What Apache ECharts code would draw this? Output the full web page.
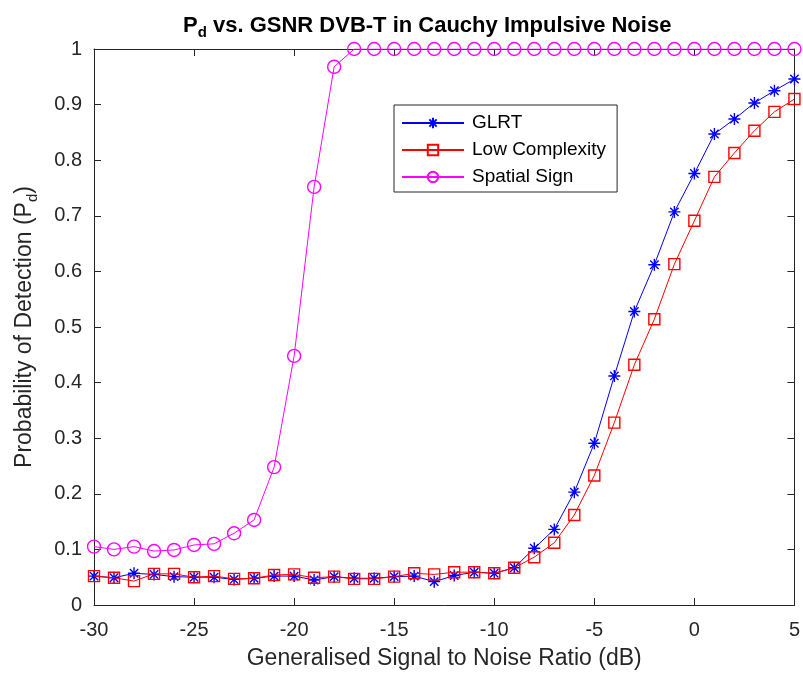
<!DOCTYPE html>
<html>
<head>
<meta charset="utf-8">
<script src="https://cdn.jsdelivr.net/npm/echarts@6/dist/echarts.min.js"></script>
<style>html,body{margin:0;padding:0;background:#fff}#c{width:803px;height:675px}</style>
</head>
<body>
<div id="c"></div>
<script>
const snr = [-30,-29,-28,-27,-26,-25,-24,-23,-22,-21,-20,-19,-18,-17,-16,-15,-14,-13,-12,-11,-10,-9,-8,-7,-6,-5,-4,-3,-2,-1,0,1,2,3,4,5];
const glrt = [0.052,0.049,0.057,0.055,0.051,0.050,0.050,0.046,0.048,0.052,0.052,0.045,0.051,0.048,
  0.048,0.051,0.052,0.042,0.053,0.059,0.057,0.067,
  0.102,0.136,0.203,0.291,0.412,0.528,0.612,0.707,0.776,0.847,0.874,0.903,0.925,0.946];
const lowComplexity = [0.052,0.049,0.043,0.056,0.056,0.050,0.052,0.047,0.048,0.054,0.055,0.049,0.051,0.047,
  0.047,0.051,0.057,0.055,0.059,0.059,0.057,0.067,
  0.086,0.112,0.162,0.233,0.328,0.432,0.514,0.613,0.691,0.770,0.813,0.853,0.887,0.910];
const spatialSign = [0.105,0.100,0.105,0.097,0.099,0.108,0.110,0.129,0.153,0.248,0.448,0.752,0.968,1.0,
  1.0,1.0,1.0,1.0,1.0,1.0,1.0,1.0,
  1.0,1.0,1.0,1.0,1.0,1.0,1.0,1.0,1.0,1.0,1.0,1.0,1.0,1.0];
const seriesNames = ['GLRT','Low Complexity','Spatial Sign'];

const FONT = 'Liberation Sans, Arial, Helvetica, sans-serif';
const AX = '#262626';
const star = 'path://M5 0 L5 10 M0 5 L10 5 M1.5 1.5 L8.5 8.5 M1.5 8.5 L8.5 1.5';
const pair = (ys) => snr.map((x, i) => [x, ys[i]]);

const axisCommon = () => ({
  axisLine: {show: true, onZero: false, lineStyle: {color: AX, width: 1}},
  axisTick: {show: true, inside: true, length: 7, lineStyle: {color: AX}},
  splitLine: {show: false}
});

const chart = echarts.init(document.getElementById('c'), null, {renderer: 'canvas'});
chart.setOption({
  backgroundColor: '#fff',
  animation: false,
  title: {
    text: 'P{sub|d} vs. GSNR DVB-T in Cauchy Impulsive Noise',
    left: 178, top: 6,
    textStyle: {fontFamily: FONT, fontSize: 22, fontWeight: 'bold', color: '#000',
      rich: {sub: {fontFamily: FONT, fontSize: 15, fontWeight: 'bold', color: '#000', verticalAlign: 'bottom', padding: [14, 0, 0, 0]}}}
  },
  grid: {left: 94, right: 5, top: 49, bottom: 70, containLabel: false},
  legend: {
    orient: 'vertical', left: 394, top: 105,
    data: seriesNames,
    itemWidth: 62, itemHeight: 13, itemGap: 7,
    padding: [8, 11, 5, 7],
    borderColor: AX, borderWidth: 1, backgroundColor: '#fff',
    textStyle: {fontFamily: FONT, fontSize: 19, color: '#000', lineHeight: 20, padding: [0, 0, 0, 3]}
  },
  xAxis: [
    Object.assign({type: 'value', min: -30, max: 5, interval: 5, position: 'bottom',
      name: 'Generalised Signal to Noise Ratio (dB)', nameLocation: 'middle', nameGap: 42,
      nameTextStyle: {fontFamily: FONT, fontSize: 23, color: AX},
      axisLabel: {fontFamily: FONT, fontSize: 20, color: AX, margin: 15}}, axisCommon()),
    Object.assign({type: 'value', min: -30, max: 5, interval: 5, position: 'top',
      axisLabel: {show: false}}, axisCommon())
  ],
  yAxis: [
    Object.assign({type: 'value', min: 0, max: 1, interval: 0.1, position: 'left',
      name: 'Probability of Detection (P{sub|d})', nameLocation: 'middle', nameGap: 54,
      nameTextStyle: {fontFamily: FONT, fontSize: 23, color: AX,
        rich: {sub: {fontFamily: FONT, fontSize: 15, color: AX, verticalAlign: 'bottom', padding: [15, 0, 0, 0]}}},
      axisLabel: {fontFamily: FONT, fontSize: 20, color: AX, margin: 12,
        formatter: v => String(Math.round(v * 10) / 10)}}, axisCommon()),
    Object.assign({type: 'value', min: 0, max: 1, interval: 0.1, position: 'right',
      axisLabel: {show: false}}, axisCommon())
  ],
  series: [
    {name: 'GLRT', type: 'line', data: pair(glrt), symbol: star, symbolSize: 12,
      lineStyle: {color: '#0000FF', width: 1}, itemStyle: {color: '#0000FF', borderColor: '#0000FF', borderWidth: 1.4},
      showAllSymbol: true, z: 3},
    {name: 'Low Complexity', type: 'line', data: pair(lowComplexity), symbol: 'rect', symbolSize: 11,
      lineStyle: {color: '#FF0000', width: 1}, itemStyle: {color: 'rgba(0,0,0,0)', borderColor: '#FF0000', borderWidth: 1.4},
      showAllSymbol: true, z: 4},
    {name: 'Spatial Sign', type: 'line', data: pair(spatialSign), symbol: 'circle', symbolSize: 13,
      lineStyle: {color: '#FF00FF', width: 1}, itemStyle: {color: 'rgba(0,0,0,0)', borderColor: '#FF00FF', borderWidth: 1.4},
      showAllSymbol: true, z: 5}
  ]
});
</script>
</body>
</html>
